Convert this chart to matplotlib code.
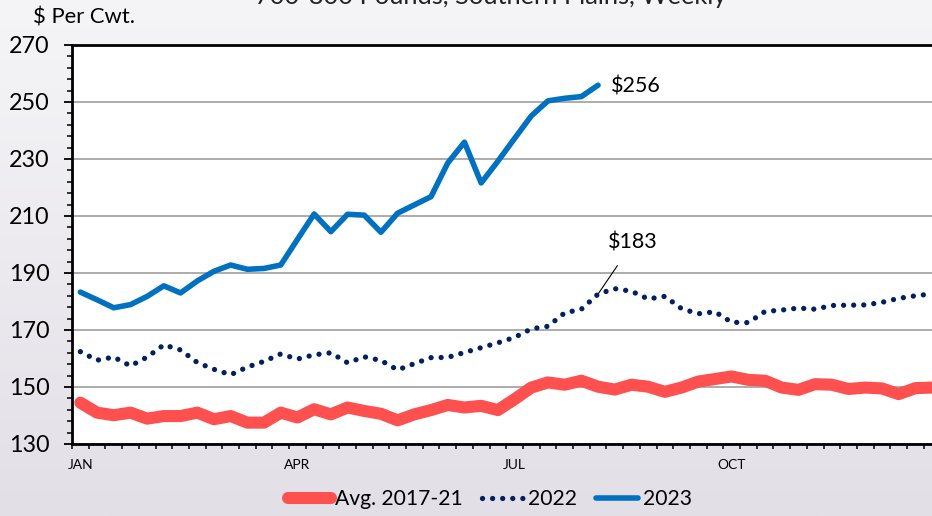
import numpy as np
import matplotlib
matplotlib.use("Agg")
from matplotlib import pyplot as plt
from matplotlib.ticker import FixedLocator

"""Chart data (weekly, $ per cwt)"""
avg_1721 = [144.5, 141.0, 140.1, 141.0, 138.9, 139.8, 139.8, 141.0, 138.7, 139.8,
            137.5, 137.5, 141.0, 139.3, 142.2, 140.4, 142.8, 141.6, 140.6, 138.3,
            140.4, 141.9, 143.7, 142.8, 143.4, 141.9, 145.7, 149.8, 151.6, 150.8,
            152.2, 150.1, 149.1, 150.8, 150.1, 148.3, 149.8, 151.9, 152.8, 153.7,
            152.5, 152.2, 149.8, 149.0, 151.0, 150.8, 149.3, 149.8, 149.5, 147.5,
            149.6, 149.8]
y2022 = [162.4, 159.4, 160.5, 157.4, 160.5, 164.8, 163.0, 158.6, 156.2, 154.3,
         157.0, 159.0, 161.6, 159.8, 161.3, 162.0, 158.5, 160.6, 159.3, 156.0,
         158.2, 160.3, 160.4, 162.1, 163.8, 165.5, 167.4, 170.4, 171.3, 176.0,
         177.3, 182.6, 184.5, 183.6, 180.9, 181.8, 177.5, 175.7, 176.4, 172.7,
         172.6, 176.5, 177.0, 177.7, 177.3, 178.6, 178.7, 178.8, 179.7, 181.1,
         182.0, 182.7]
y2023 = [183.3, 180.6, 177.8, 178.9, 181.8, 185.5, 183.0, 187.2, 190.6, 192.8,
         191.3, 191.6, 192.8, 201.8, 210.7, 204.5, 210.6, 210.3, 204.3, 211.0,
         213.9, 216.8, 228.6, 235.9, 221.6, 229.2, 237.2, 245.1, 250.4, 251.3,
         251.9, 255.9]
month_labels = ["JAN", "APR", "JUL", "OCT"]
month_weeks = [0, 13, 26, 39]
series_names = ["Avg. 2017-21", "2022", "2023"]

W, H = 932, 516
plt.rcParams['font.family'] = ['Lato', 'DejaVu Sans']
fig = plt.figure(figsize=(W / 100, H / 100), dpi=100)

"""Background gradient"""
bg = fig.add_axes([0, 0, 1, 1], zorder=-10)
grad = np.linspace(0, 1, 256).reshape(-1, 1)
top_c = np.array([245, 245, 247]) / 255
bot_c = np.array([227, 223, 231]) / 255
img = top_c + (bot_c - top_c) * grad[:, :, None]
bg.imshow(img, aspect='auto', extent=[0, 1, 0, 1])
bg.axis('off')

"""Plot area"""
left, right, top, bottom = 72, 940.4, 45, 444
ax = fig.add_axes([left / W, 1 - bottom / H, (right - left) / W, (bottom - top) / H])
ax.set_facecolor('white')

weeks_all = np.arange(len(avg_1721))
ax.plot(weeks_all, avg_1721, color='#FF5050', lw=8.7, solid_capstyle='round',
        solid_joinstyle='round', label=series_names[0], zorder=3)
ax.plot(np.arange(len(y2022)), y2022, color='#002060', lw=3.8,
        linestyle=(0, (0.01, 1.9)), dash_capstyle='round', label=series_names[1], zorder=4)
ax.plot(np.arange(len(y2023)), y2023, color='#0070C0', lw=4, solid_capstyle='round',
        solid_joinstyle='round', label=series_names[2], zorder=5)

ax.set_xlim(-0.5, 51.5)
ax.set_ylim(130, 270)

ax.set_yticks(np.arange(130, 271, 20))
ax.yaxis.set_minor_locator(FixedLocator(np.arange(130, 271, 4)))
ax.tick_params(axis='y', which='major', length=6, width=1.3, labelsize=16.8, pad=10)
ax.tick_params(axis='y', which='minor', length=3.6, width=1.1)
ax.set_xticks(month_weeks)
ax.set_xticklabels(month_labels)
ax.xaxis.set_minor_locator(FixedLocator(np.arange(-0.5, 52, 1)))
ax.tick_params(axis='x', which='major', length=0, labelsize=10, pad=11)
ax.tick_params(axis='x', which='minor', length=3.6, width=1.1)

ax.grid(axis='y', which='major', color='#A6A6A6', lw=1.3)
ax.set_axisbelow(True)
for s in ['left', 'top', 'bottom']:
    ax.spines[s].set_linewidth(2)
    ax.spines[s].set_color('black')
ax.spines['right'].set_visible(False)

"""Labels"""
ax.text(31.8, 255.5, "$256", fontsize=15.5, ha='left', va='center')
ax.annotate("$183", xy=(31, 182.6), xytext=(33.1, 200.7), fontsize=15.5,
            ha='center', va='center',
            arrowprops=dict(arrowstyle='-', color='black', lw=0.8, shrinkA=9, shrinkB=0))

fig.text(491 / W, 1 - 4 / H, "700-800 Pounds, Southern Plains, Weekly",
         fontsize=18.3, ha='center', va='baseline', color='#222222')
fig.text(33 / W, 1 - 18 / H, "$ Per Cwt.", fontsize=15.8, ha='left', va='center')

fig.legend(loc='center', bbox_to_anchor=(490 / W, 1 - 499 / H), ncol=3, frameon=False,
           fontsize=15.2, handlelength=2.0, handletextpad=0.2, columnspacing=0.9)

fig.savefig('out.png', dpi=100)
